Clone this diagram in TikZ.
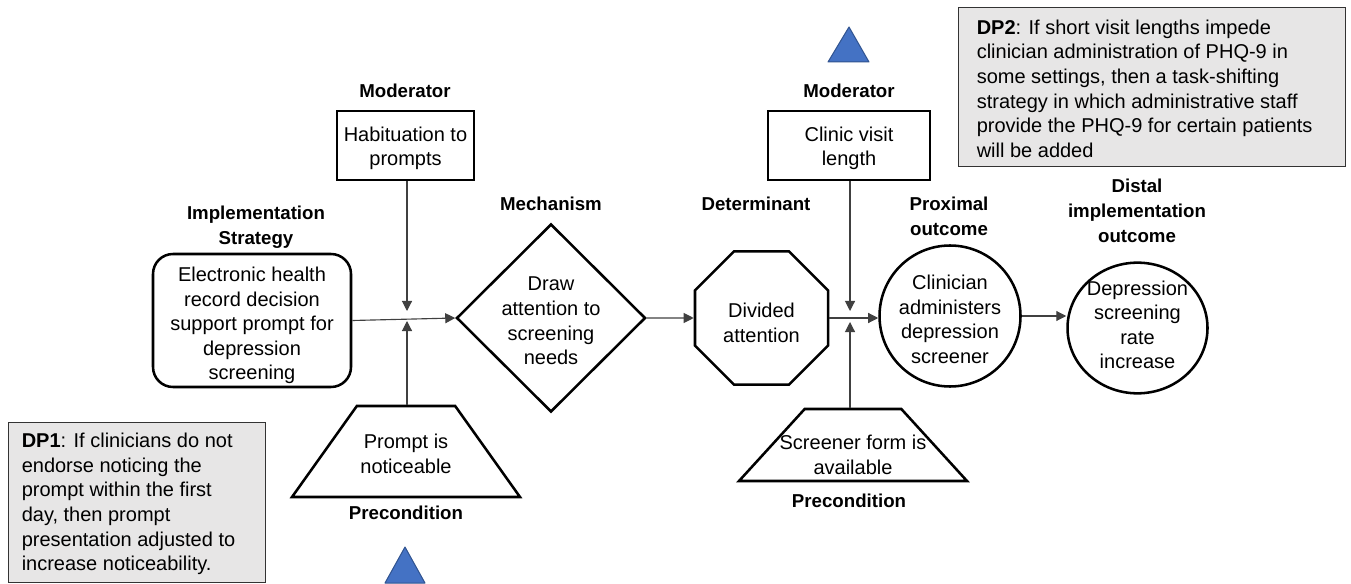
\documentclass[tikz,border=0pt]{standalone}
\usepackage{fontspec}
\setmainfont{Liberation Sans}
\usetikzlibrary{shapes.geometric,arrows.meta,calc}

\definecolor{dpgray}{HTML}{E7E6E6}
\definecolor{cueblue}{HTML}{4472C4}
\definecolor{cueedge}{HTML}{2F528F}

\newcommand{\tinybox}{\phantom{\rule{1pt}{1pt}}}

\begin{document}
\begin{tikzpicture}[x=0.75pt,y=-0.75pt,
  body/.style={font=\fontsize{15}{18.4}\selectfont, align=center, inner sep=0pt},
  lbl/.style={font=\bfseries\fontsize{14}{18.75}\selectfont, align=center, inner sep=0pt},
  outline/.style={draw=black, line width=1.9pt},
  thinoutline/.style={draw=black, line width=1.6pt},
  arr/.style={draw=black!75, line width=0.85pt, -{Triangle[length=7.5pt,width=7.5pt]}},
  dpbox/.style={draw=black!80, line width=0.9pt, fill=dpgray, inner sep=0pt, anchor=north west},
  dptext/.style={font=\fontsize{15}{18.45}\selectfont, align=left, inner sep=0pt, anchor=north west},
  cue/.style={fill=cueblue, draw=cueedge, line width=0.75pt, line join=round},
]
\useasboundingbox (0,0) rectangle (1351,584);

% ---- moderators ----
\node[lbl] (mod1l) at (405,91) {Moderator};
\node[thinoutline, rectangle, minimum width=102.75pt, minimum height=51.75pt, inner sep=0pt] (mod1) at (405.5,145.5) {\tinybox};
\node[body] (mod1t) at (405.5,148.5) {Habituation to\\prompts};
\node[lbl] (mod2l) at (849,91) {Moderator};
\node[thinoutline, rectangle, minimum width=121.5pt, minimum height=51.75pt, inner sep=0pt] (mod2) at (849,145.5) {\tinybox};
\node[body] (mod2t) at (849,148.5) {Clinic visit\\length};

% ---- implementation strategy ----
\node[lbl] (stratl) at (256,227.5) {Implementation\\Strategy};
\node[outline, rectangle, rounded corners=15pt, minimum width=148.5pt, minimum height=99.75pt, inner sep=0pt] (strat) at (252,320.5) {\tinybox};
\node[body] (stratt) at (252,325.5) {Electronic health\\record decision\\support prompt for\\depression\\screening};

% ---- mechanism ----
\node[lbl] (mechl) at (551,204) {Mechanism};
\node[outline, diamond, minimum width=141.75pt, minimum height=141pt, inner sep=0pt] (mech) at (551,318) {\tinybox};
\node[body] (mecht) at (551,321) {Draw\\attention to\\screening\\needs};

% ---- determinant ----
\node[lbl] (detl) at (756,204) {Determinant};
\node[outline, regular polygon, regular polygon sides=8, minimum size=108pt, inner sep=0pt] (det) at (761.5,318) {\tinybox};
\node[body] (dett) at (761.5,323) {Divided\\attention};

% ---- outcomes ----
\node[lbl] (proxl) at (949,216.5) {Proximal\\outcome};
\node[outline, circle, minimum size=105.75pt, inner sep=0pt] (prox) at (950,316) {\tinybox};
\node[body] (proxt) at (950,319.5) {Clinician\\administers\\depression\\screener};

\node[lbl] (distl) at (1137,211) {Distal\\implementation\\outcome};
\node[outline, ellipse, minimum width=105pt, minimum height=98pt, inner sep=0pt] (dist) at (1137.5,328) {\tinybox};
\node[body] (distt) at (1137.5,325) {Depression\\screening\\rate\\increase};

% ---- preconditions ----
\node[outline, trapezium, trapezium angle=56.6, trapezium stretches=true, minimum width=171pt, minimum height=68.25pt, inner sep=0pt] (pre1) at (406,451.5) {\tinybox};
\node[body] (pre1t) at (406,454) {Prompt is\\noticeable};
\node[lbl] (pre1l) at (406,513) {Precondition};

\node[outline, trapezium, trapezium angle=55.8, trapezium stretches=true, minimum width=171pt, minimum height=54pt, inner sep=0pt] (pre2) at (853,445) {\tinybox};
\node[body] (pre2t) at (853,455) {Screener form is\\available};
\node[lbl] (pre2l) at (849,501) {Precondition};

% ---- junction points on the main chain ----
\coordinate (j1top) at (407,311);
\coordinate (j1bot) at (407,321);
\coordinate (j2top) at (850,311);
\coordinate (j2bot) at (850,322);

% ---- connectors ----
\draw[arr] (strat.east) -- (mech.west);
\draw[arr] (mod1.south -| j1top) -- (j1top);
\draw[arr] (pre1.north -| j1bot) -- (j1bot);
\draw[arr] (mech.east) -- (det.west);
\draw[arr] (det.east) -- (det.east -| prox.west);
\draw[arr] (mod2.south -| j2top) -- (j2top);
\draw[arr] (pre2.north -| j2bot) -- (j2bot);
\draw[arr] (prox.east) -- (prox.east -| dist.west);

% ---- decision points ----
\node[dpbox, minimum width=192.75pt, minimum height=120pt] (dp1) at (8,422) {};
\node[dptext] (dp1t) at (21.5,433) {\textbf{DP1}: If clinicians do not\\endorse noticing the\\prompt within the first\\day, then prompt\\presentation adjusted to\\increase noticeability.};

\node[dpbox, minimum width=290.25pt, minimum height=119.25pt] (dp2) at (958,7) {};
\node[dptext] (dp2t) at (976.5,19.5) {\textbf{DP2}: If short visit lengths impede\\clinician administration of PHQ-9 in\\some settings, then a task-shifting\\strategy in which administrative staff\\provide the PHQ-9 for certain patients\\will be added};

% ---- adaptation markers ----
\draw[cue] (849,27) -- (869,62) -- (828,62) -- cycle;
\draw[cue] (405,547) -- (425,583) -- (385,583) -- cycle;

\end{tikzpicture}
\end{document}
